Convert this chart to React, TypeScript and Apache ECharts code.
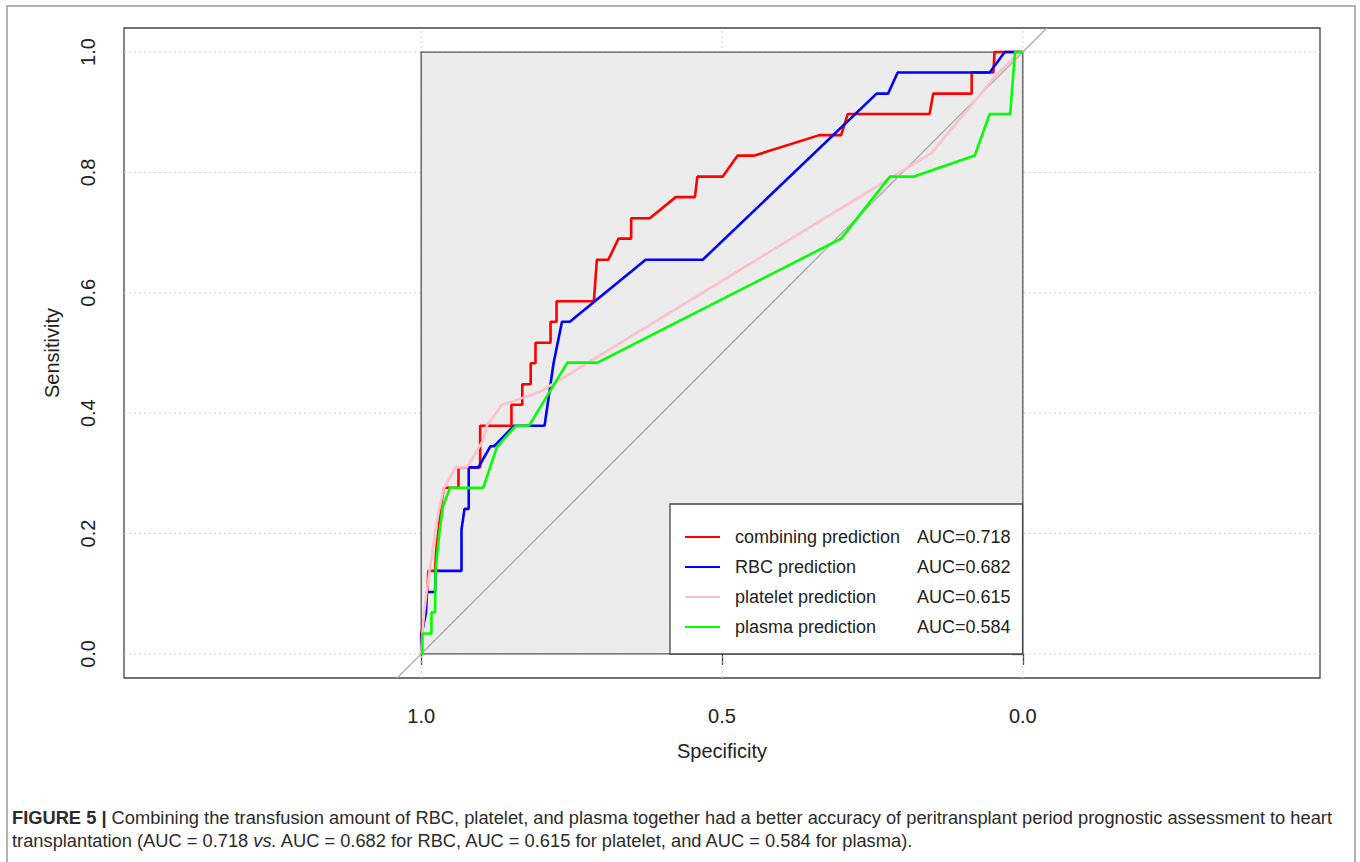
import React, { useEffect, useRef } from "react";
import * as echarts from "echarts";

// ---------- data (specificity, sensitivity) ----------
const seriesNames = [
  "combining prediction",
  "RBC prediction",
  "platelet prediction",
  "plasma prediction",
];
const aucValues = ["0.718", "0.682", "0.615", "0.584"];
const seriesColors = ["#ff0000", "#0000ff", "#ffc0cb", "#00ff00"];

const combining: number[][] = [
  [1.0, 0.0], [1.0, 0.034], [0.993, 0.069], [0.99, 0.103], [0.988, 0.138],
  [0.977, 0.138], [0.975, 0.172], [0.971, 0.207], [0.968, 0.241], [0.962, 0.276],
  [0.938, 0.276], [0.938, 0.31], [0.902, 0.31], [0.902, 0.379], [0.85, 0.379],
  [0.85, 0.414], [0.832, 0.414], [0.832, 0.448], [0.818, 0.448], [0.818, 0.483],
  [0.81, 0.483], [0.81, 0.517], [0.785, 0.517], [0.785, 0.552], [0.775, 0.552],
  [0.775, 0.586], [0.713, 0.586], [0.708, 0.655], [0.689, 0.655], [0.672, 0.69],
  [0.651, 0.69], [0.651, 0.724], [0.62, 0.724], [0.577, 0.759], [0.545, 0.759],
  [0.541, 0.793], [0.499, 0.793], [0.474, 0.828], [0.446, 0.828], [0.338, 0.862],
  [0.302, 0.862], [0.291, 0.897], [0.155, 0.897], [0.149, 0.931], [0.085, 0.931],
  [0.085, 0.966], [0.049, 0.966], [0.047, 1.0], [0.0, 1.0],
];

const rbc: number[][] = [
  [1.0, 0.0], [0.999, 0.034], [0.992, 0.069], [0.991, 0.103], [0.977, 0.103],
  [0.976, 0.138], [0.933, 0.138], [0.933, 0.207], [0.928, 0.241], [0.921, 0.241],
  [0.921, 0.31], [0.905, 0.31], [0.885, 0.345], [0.879, 0.345], [0.846, 0.379],
  [0.795, 0.379], [0.78, 0.483], [0.766, 0.552], [0.753, 0.552], [0.627, 0.655],
  [0.532, 0.655], [0.243, 0.931], [0.224, 0.931], [0.208, 0.966], [0.055, 0.966],
  [0.03, 1.0], [0.0, 1.0],
];

const platelet: number[][] = [
  [1.0, 0.0], [0.998, 0.034], [0.995, 0.069], [0.991, 0.103], [0.986, 0.138],
  [0.981, 0.172], [0.976, 0.207], [0.97, 0.241], [0.962, 0.276], [0.943, 0.31],
  [0.924, 0.31], [0.897, 0.355], [0.891, 0.379], [0.866, 0.414], [0.847, 0.42],
  [0.802, 0.436], [0.152, 0.832], [0.043, 0.963], [0.005, 1.0], [0.0, 1.0],
];

const plasma: number[][] = [
  [1.0, 0.0], [0.998, 0.0], [0.998, 0.034], [0.983, 0.034], [0.983, 0.069],
  [0.977, 0.069], [0.976, 0.138], [0.97, 0.2], [0.964, 0.245], [0.952, 0.276],
  [0.897, 0.276], [0.874, 0.344], [0.843, 0.379], [0.821, 0.379], [0.757, 0.484],
  [0.707, 0.484], [0.302, 0.69], [0.221, 0.793], [0.182, 0.793], [0.08, 0.828],
  [0.055, 0.897], [0.021, 0.897], [0.013, 1.0], [0.0, 1.0],
];

const curves = [combining, rbc, platelet, plasma];

const xTicks = [1.0, 0.5, 0.0];
const yTicks = [0.0, 0.2, 0.4, 0.6, 0.8, 1.0];

// plot region extents (R style: xlim by aspect ratio, ylim with 4% padding)
const X_MIN = -0.494;
const X_MAX = 1.494;
const Y_MIN = -0.04;
const Y_MAX = 1.04;

const rectCorners = [[1, 1, 0, 0]];

const captionLine1 =
  "{b|FIGURE 5 |}{n| Combining the transfusion amount of RBC, platelet, and plasma together had a better accuracy of peritransplant period prognostic assessment to heart}";
const captionLine2 =
  "{n|transplantation (AUC = 0.718 }{i|vs.}{n| AUC = 0.682 for RBC, AUC = 0.615 for platelet, and AUC = 0.584 for plasma).}";

const FONT = "'Liberation Sans', Arial, Helvetica, sans-serif";

export default function App() {
  const ref = useRef<HTMLDivElement>(null);

  useEffect(() => {
    if (!ref.current) return;
    const chart = echarts.init(ref.current, null, { renderer: "svg" });

    const gridLineData = [
      ...yTicks.map((v) => [0, v]),
      ...xTicks.map((v) => [1, v]),
    ];

    const capSize = 18.3;
    const rich = {
      b: { fontWeight: "bold", fontSize: capSize, fontFamily: FONT, fill: "#2b2b2b", color: "#2b2b2b" },
      n: { fontSize: capSize, fontFamily: FONT, fill: "#2b2b2b", color: "#2b2b2b" },
      i: { fontStyle: "italic", fontSize: capSize, fontFamily: FONT, fill: "#2b2b2b", color: "#2b2b2b" },
    };

    const option: any = {
      animation: false,
      backgroundColor: "#ffffff",
      grid: {
        left: 124,
        top: 28,
        width: 1196,
        height: 650,
        show: true,
        borderColor: "#444",
        borderWidth: 1.3,
        backgroundColor: "transparent",
      },
      xAxis: {
        type: "value",
        inverse: true,
        min: X_MIN,
        max: X_MAX,
        name: "Specificity",
        nameLocation: "middle",
        nameGap: 63,
        nameTextStyle: { fontSize: 20, fontFamily: FONT, color: "#222" },
        axisLine: { show: false },
        splitLine: { show: false },
        axisTick: {
          show: true,
          customValues: xTicks,
          length: 11,
          lineStyle: { color: "#444", width: 1.3 },
        },
        axisLabel: {
          show: true,
          customValues: xTicks,
          margin: 28,
          fontSize: 20,
          fontFamily: FONT,
          color: "#222",
          formatter: (v: number) => v.toFixed(1),
        },
      },
      yAxis: {
        type: "value",
        min: Y_MIN,
        max: Y_MAX,
        name: "Sensitivity",
        nameLocation: "middle",
        nameGap: 62,
        nameTextStyle: { fontSize: 20, fontFamily: FONT, color: "#222" },
        axisLine: { show: false },
        splitLine: { show: false },
        axisTick: {
          show: true,
          customValues: yTicks,
          length: 11,
          lineStyle: { color: "#444", width: 1.3 },
        },
        axisLabel: {
          show: true,
          customValues: yTicks,
          rotate: 90,
          margin: 26,
          fontSize: 20,
          fontFamily: FONT,
          color: "#222",
          formatter: (v: number) => v.toFixed(1),
        },
      },
      legend: {
        show: true,
        data: seriesNames,
        orient: "vertical",
        left: 670,
        top: 504,
        icon: "rect",
        itemWidth: 35,
        itemHeight: 2,
        itemGap: 12,
        padding: [24, 12, 18, 15],
        backgroundColor: "#ffffff",
        borderColor: "#444",
        borderWidth: 1.3,
        borderRadius: 0,
        selectedMode: false,
        formatter: (name: string) => {
          const idx = seriesNames.indexOf(name);
          return `{a|${name}}{b|AUC=${aucValues[idx]}}`;
        },
        textStyle: {
          fontSize: 18,
          fontFamily: FONT,
          color: "#222",
          rich: {
            a: { width: 182, padding: [0, 0, 0, 10], fontSize: 18, fontFamily: FONT, color: "#222" },
            b: { fontSize: 18, fontFamily: FONT, color: "#222" },
          },
        },
      },
      series: [
        {
          type: "custom",
          name: "gridlines",
          silent: true,
          z: 1,
          data: gridLineData,
          renderItem: (_p: any, api: any) => {
            const kind = api.value(0);
            const v = api.value(1);
            const a = kind === 0 ? api.coord([X_MAX, v]) : api.coord([v, Y_MIN]);
            const b = kind === 0 ? api.coord([X_MIN, v]) : api.coord([v, Y_MAX]);
            return {
              type: "line",
              shape: { x1: a[0], y1: a[1], x2: b[0], y2: b[1] },
              style: { stroke: "#cfcfcf", lineWidth: 1, lineDash: [2, 3] },
            };
          },
        },
        {
          type: "custom",
          name: "background",
          silent: true,
          z: 1,
          data: rectCorners,
          renderItem: (_p: any, api: any) => {
            const a = api.coord([api.value(0), api.value(1)]);
            const b = api.coord([api.value(2), api.value(3)]);
            return {
              type: "rect",
              shape: {
                x: Math.min(a[0], b[0]),
                y: Math.min(a[1], b[1]),
                width: Math.abs(b[0] - a[0]),
                height: Math.abs(b[1] - a[1]),
              },
              style: { fill: "#ececec", stroke: "#555", lineWidth: 1.3 },
            };
          },
        },
        {
          type: "line",
          name: "identity",
          silent: true,
          z: 2,
          symbol: "none",
          data: [
            [1 - Y_MIN, Y_MIN],
            [1 - Y_MAX, Y_MAX],
          ],
          lineStyle: { color: "#aaaaaa", width: 1.3 },
        },
        ...curves.map((d, i) => ({
          type: "line",
          name: seriesNames[i],
          z: 3,
          symbol: "none",
          silent: true,
          data: d,
          color: seriesColors[i],
          itemStyle: { color: seriesColors[i] },
          lineStyle: { color: seriesColors[i], width: 2.6 },
        })),
      ],
      graphic: [
        {
          type: "rect",
          silent: true,
          shape: { x: 7, y: 6, width: 1348, height: 880 },
          style: { fill: "none", stroke: "#9a9a9a", lineWidth: 1.5 },
        },
        {
          type: "text",
          x: 12,
          y: 817,
          silent: true,
          style: {
            text: captionLine1,
            rich,
            fontSize: capSize,
            fontFamily: FONT,
            fill: "#2b2b2b",
            verticalAlign: "middle",
          },
        },
        {
          type: "text",
          x: 12,
          y: 840,
          silent: true,
          style: {
            text: captionLine2,
            rich,
            fontSize: capSize,
            fontFamily: FONT,
            fill: "#2b2b2b",
            verticalAlign: "middle",
          },
        },
      ],
    };

    chart.setOption(option);
    return () => chart.dispose();
  }, []);

  return (
    <div
      ref={ref}
      style={{ position: "absolute", left: 0, top: 0, width: 1360, height: 862 }}
    />
  );
}
